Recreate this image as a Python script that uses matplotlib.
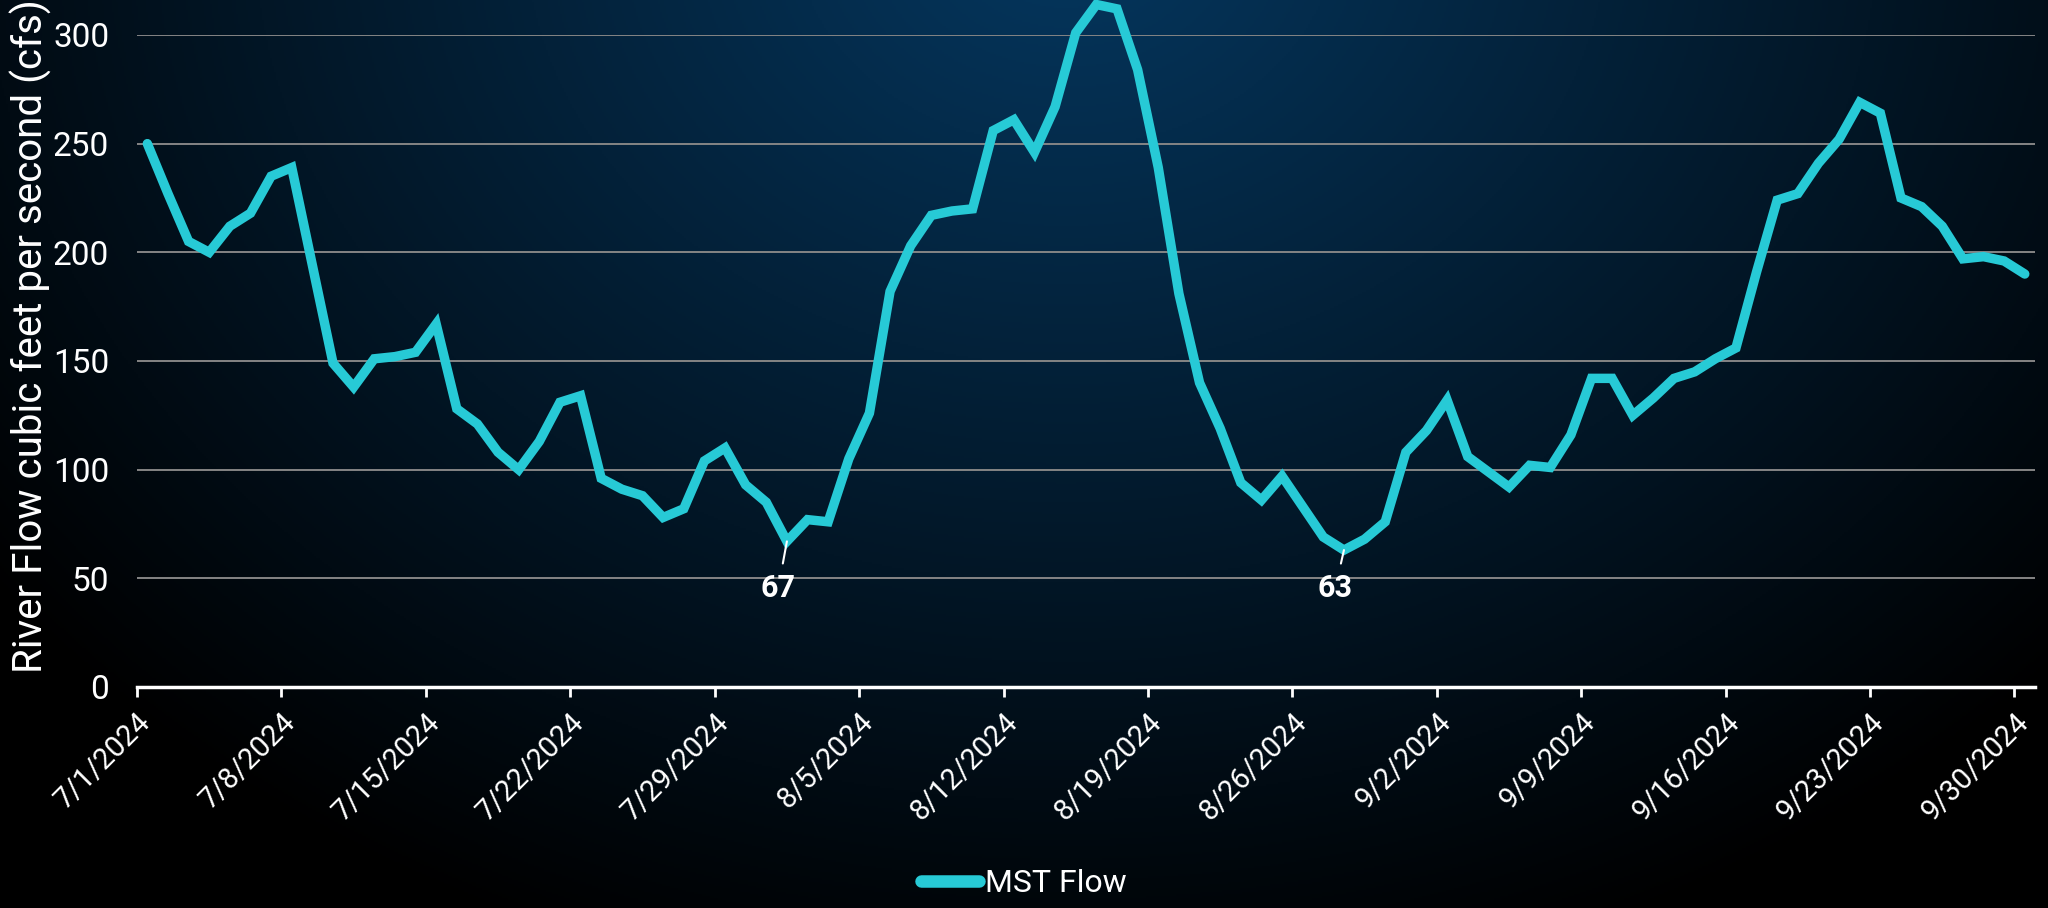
import numpy as np
import pandas as pd
import matplotlib.pyplot as plt
from matplotlib.colors import to_rgb

# Daily river flow, 7/1/2024 .. 9/30/2024 (cfs)
start_date = '2024-07-01'
end_date = '2024-09-30'
flow_cfs = [250, 227, 205, 200, 212, 218, 235, 239, 194, 149,
            138, 151, 152, 154, 167, 128, 121, 108, 100, 113,
            131, 134, 96, 91, 88, 78, 82, 104, 110, 93,
            85, 67, 77, 76, 105, 126, 182, 203, 217, 219,
            220, 256, 261, 246, 267, 301, 314, 312, 284, 239,
            181, 140, 119, 94, 86, 97, 83, 69, 63, 68,
            76, 108, 118, 132, 106, 99, 92, 102, 101, 116,
            142, 142, 125, 133, 142, 145, 151, 156, 191, 224,
            227, 241, 252, 269, 264, 225, 221, 212, 197, 198,
            196, 190]
series_name = 'MST Flow'
y_label = 'River Flow cubic feet per second (cfs)'
y_ticks = [0, 50, 100, 150, 200, 250, 300]
callout_dates = ['2024-08-01', '2024-08-28']

dates = pd.date_range(start_date, end_date, freq='D')
df = pd.DataFrame({'date': dates, 'flow': flow_cfs})

line_color = '#27CAD6'
plt.rcParams['font.family'] = ['Roboto', 'DejaVu Sans']

fig = plt.figure(figsize=(20.48, 9.08), dpi=100)

# background: dark blue glow at the top, fading to black
bg = fig.add_axes([0, 0, 1, 1], zorder=-10)
h, w = 454, 1024
yy, xx = np.mgrid[0:h, 0:w]
dx = (xx / w - 0.52)
dy = (yy / h + 0.08) * 0.55
d = np.sqrt(dx ** 2 + dy ** 2) / 0.66
t = np.clip(d, 0, 1)
c0 = np.array(to_rgb('#05375F'))
img = c0[None, None, :] * (1 - t[..., None])
bg.imshow(img, aspect='auto', extent=[0, 1, 0, 1], origin='upper')
bg.axis('off')

ax = fig.add_axes([0.0669, 0.2434, 0.9268, 0.7181])
ax.patch.set_alpha(0)

ax.plot(df['date'] + pd.Timedelta(hours=12), df['flow'], color=line_color,
        lw=6.8, solid_joinstyle='miter', solid_capstyle='round', clip_on=False,
        label=series_name, zorder=3)

ax.set_ylim(0, 300)
ax.set_yticks(y_ticks)
ax.set_xlim(pd.Timestamp(start_date), pd.Timestamp(end_date) + pd.Timedelta(days=1))
ticks = pd.date_range(start_date, end_date, freq='7D')
ax.set_xticks(ticks)
ax.tick_params(axis='x', length=7.5, width=2, color='white', direction='out',
               labelbottom=False)
ax.tick_params(axis='y', length=0, labelsize=24, labelcolor='white', pad=20)

# rotated date labels, ending just right of each tick
for tk in ticks:
    ax.annotate(f'{tk.month}/{tk.day}/{tk.year}', xy=(tk, 0),
                xycoords=('data', 'axes fraction'), xytext=(7, -22),
                textcoords='offset points', rotation=45, rotation_mode='anchor',
                ha='right', va='center', fontsize=21, color='white',
                annotation_clip=False)

ax.yaxis.grid(True, color='#858585', lw=1.4)
ax.set_axisbelow(True)
for side in ['top', 'right', 'left']:
    ax.spines[side].set_visible(False)
ax.spines['bottom'].set_color('white')
ax.spines['bottom'].set_linewidth(2.5)
ax.spines['bottom'].set_zorder(4)

ax.set_ylabel(y_label, fontsize=29, color='white', va='center')
ax.yaxis.set_label_coords(-0.056, 0.538)

# low-point callouts
for cd in callout_dates:
    row = df[df['date'] == pd.Timestamp(cd)].iloc[0]
    xp = row['date'] + pd.Timedelta(hours=12)
    ax.annotate(f"{row['flow']:.0f}", xy=(xp, row['flow']),
                xytext=(xp - pd.Timedelta(hours=10), 45.5), textcoords='data',
                ha='center', va='center', fontsize=22, fontweight='bold', color='white',
                zorder=5,
                arrowprops=dict(arrowstyle='-', color='white', lw=1.5,
                                shrinkA=5, shrinkB=0))

leg = fig.legend(loc='center', bbox_to_anchor=(0.5, 0.027), frameon=False,
                 handlelength=1.8, handletextpad=0.2, fontsize=23)
for txt in leg.get_texts():
    txt.set_color('white')
for hl in leg.get_lines():
    hl.set_linewidth(9)
    hl.set_solid_capstyle('round')

fig.savefig('out.png', dpi=100)
